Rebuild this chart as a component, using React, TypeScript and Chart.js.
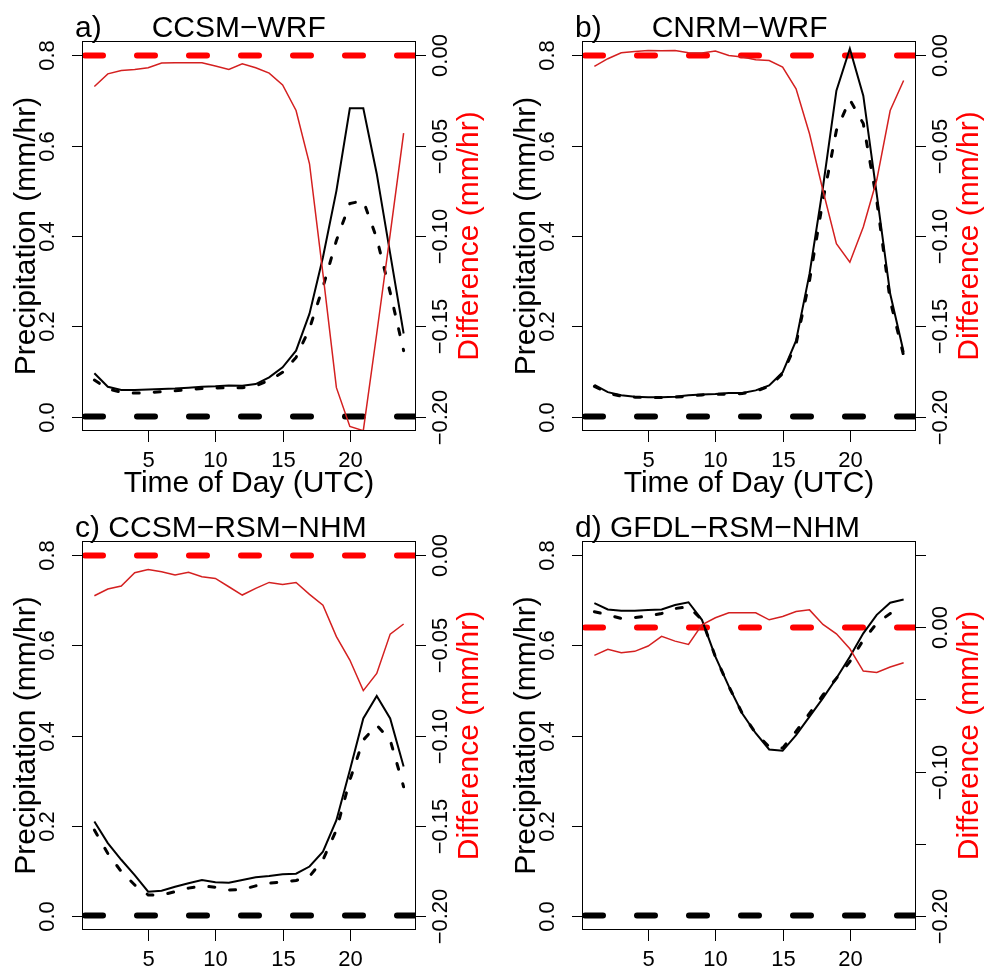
import React, { useEffect, useRef } from 'react';
import { Chart, registerables } from 'chart.js';

Chart.register(...registerables);

// ---------------- data ----------------
const HOURS = [1, 2, 3, 4, 5, 6, 7, 8, 9, 10, 11, 12, 13, 14, 15, 16, 17, 18, 19, 20, 21, 22, 23, 24];
const X_TICKS = [5, 10, 15, 20];
const X_TICK_LABELS = ['5', '10', '15', '20'];
const PRECIP_TICKS = [0, 0.2, 0.4, 0.6, 0.8];
const PRECIP_TICK_LABELS = ['0.0', '0.2', '0.4', '0.6', '0.8'];
const DIFF_TICKS_ABC = [0, -0.05, -0.1, -0.15, -0.2];
const DIFF_TICK_LABELS_ABC = ['0.00', '\u22120.05', '\u22120.10', '\u22120.15', '\u22120.20'];
const DIFF_TICKS_D = [0.05, 0, -0.05, -0.1, -0.15, -0.2];
const DIFF_TICK_LABELS_D = ['', '0.00', '', '\u22120.10', '', '\u22120.20'];

const PANEL_LETTERS = ['a)', 'b)', 'c)', 'd)'];
const PANEL_NAMES = ['CCSM\u2212WRF', 'CNRM\u2212WRF', 'CCSM\u2212RSM\u2212NHM', 'GFDL\u2212RSM\u2212NHM'];
const PANEL_GAPS = ['      ', '      ', ' ', ' '];
const PANEL_HAS_X_TITLE = [true, true, false, false];
const X_TITLE = 'Time of Day (UTC)';
const Y_TITLE = 'Precipitation (mm/hr)';
const Y2_TITLE = 'Difference (mm/hr)';

const A_SOLID = [0.096, 0.066, 0.059, 0.059, 0.060, 0.061, 0.062, 0.064, 0.066, 0.067, 0.069, 0.068, 0.072, 0.087, 0.109, 0.146, 0.228, 0.353, 0.500, 0.683, 0.683, 0.538, 0.361, 0.184];
const A_DASHED = [0.081, 0.061, 0.054, 0.052, 0.053, 0.055, 0.057, 0.060, 0.062, 0.063, 0.064, 0.064, 0.068, 0.080, 0.098, 0.131, 0.195, 0.287, 0.390, 0.472, 0.478, 0.395, 0.275, 0.146];
const A_DIFF = [-0.0172, -0.0102, -0.0083, -0.0078, -0.0068, -0.0042, -0.0041, -0.0041, -0.0041, -0.0059, -0.0078, -0.0046, -0.0068, -0.0098, -0.0163, -0.0305, -0.060, -0.121, -0.184, -0.2055, -0.2078, -0.154, -0.099, -0.043];

const B_SOLID = [0.070, 0.054, 0.047, 0.044, 0.043, 0.043, 0.044, 0.047, 0.049, 0.050, 0.052, 0.052, 0.058, 0.069, 0.098, 0.168, 0.316, 0.508, 0.722, 0.815, 0.711, 0.493, 0.272, 0.143];
const B_DASHED = [0.067, 0.052, 0.045, 0.043, 0.042, 0.042, 0.043, 0.045, 0.048, 0.049, 0.050, 0.051, 0.056, 0.067, 0.095, 0.161, 0.301, 0.479, 0.634, 0.702, 0.649, 0.479, 0.257, 0.135];
const B_DIFF = [-0.0061, -0.0018, 0.0015, 0.0022, 0.0028, 0.0026, 0.0028, 0.0015, 0.0013, 0.0024, 0.0, -0.0009, -0.0024, -0.0028, -0.0065, -0.0185, -0.0434, -0.0748, -0.1043, -0.1145, -0.095, -0.069, -0.0305, -0.0139];

const C_SOLID = [0.209, 0.161, 0.124, 0.090, 0.053, 0.055, 0.064, 0.072, 0.079, 0.074, 0.073, 0.079, 0.085, 0.088, 0.092, 0.093, 0.109, 0.142, 0.212, 0.323, 0.438, 0.488, 0.438, 0.331];
const C_DASHED = [0.190, 0.138, 0.098, 0.068, 0.046, 0.046, 0.053, 0.061, 0.066, 0.063, 0.057, 0.058, 0.066, 0.072, 0.075, 0.078, 0.087, 0.124, 0.190, 0.301, 0.390, 0.423, 0.390, 0.286];
const C_DIFF = [-0.0224, -0.0187, -0.0170, -0.0096, -0.0078, -0.0091, -0.0109, -0.0094, -0.0118, -0.0128, -0.0174, -0.0220, -0.0183, -0.0150, -0.0161, -0.0150, -0.0216, -0.0276, -0.0451, -0.0581, -0.0751, -0.0655, -0.0437, -0.0381];

const D_SOLID = [0.694, 0.680, 0.677, 0.677, 0.679, 0.680, 0.690, 0.696, 0.657, 0.575, 0.509, 0.449, 0.405, 0.369, 0.366, 0.401, 0.442, 0.483, 0.527, 0.575, 0.627, 0.668, 0.695, 0.702];
const D_DASHED = [0.675, 0.668, 0.660, 0.662, 0.665, 0.671, 0.682, 0.686, 0.657, 0.575, 0.509, 0.449, 0.405, 0.375, 0.372, 0.409, 0.449, 0.490, 0.527, 0.564, 0.612, 0.649, 0.671, 0.680];
const D_DIFF = [-0.0194, -0.0152, -0.0176, -0.0166, -0.0129, -0.0062, -0.0095, -0.0118, 0.0018, 0.0067, 0.0102, 0.0102, 0.0102, 0.0053, 0.0076, 0.0111, 0.0122, 0.0021, -0.0044, -0.0148, -0.0303, -0.0312, -0.0275, -0.0245];

// axis ranges (R style 4% extension)
const X_MIN = 1 - 0.04 * 23;
const X_MAX = 24 + 0.04 * 23;
const PRECIP_MIN = -0.032;
const PRECIP_MAX = 0.832;
const DIFF_RANGE_ABC = [-0.208, 0.008];
const DIFF_RANGE_D = [-0.21, 0.06];

// ---------------- layout / style ----------------
const W = 987;
const H = 973;
const FONT = '"Liberation Sans", Arial, Helvetica, sans-serif';
const BOXES = [
  { l: 82, t: 41, r: 416, b: 431 },
  { l: 582, t: 41, r: 916, b: 431 },
  { l: 82, t: 541, r: 416, b: 930 },
  { l: 582, t: 541, r: 916, b: 930 },
];

const PANELS = [
  { solid: A_SOLID, dashed: A_DASHED, diff: A_DIFF, range: DIFF_RANGE_ABC, ticks: DIFF_TICKS_ABC, labels: DIFF_TICK_LABELS_ABC },
  { solid: B_SOLID, dashed: B_DASHED, diff: B_DIFF, range: DIFF_RANGE_ABC, ticks: DIFF_TICKS_ABC, labels: DIFF_TICK_LABELS_ABC },
  { solid: C_SOLID, dashed: C_DASHED, diff: C_DIFF, range: DIFF_RANGE_ABC, ticks: DIFF_TICKS_ABC, labels: DIFF_TICK_LABELS_ABC },
  { solid: D_SOLID, dashed: D_DASHED, diff: D_DIFF, range: DIFF_RANGE_D, ticks: DIFF_TICKS_D, labels: DIFF_TICK_LABELS_D },
];

const decorPlugin = {
  id: 'rDecor',
  afterDraw(chart: any) {
    const cfg = chart.options.plugins.rDecor;
    if (!cfg) return;
    const ctx = chart.ctx as CanvasRenderingContext2D;
    const { left, right, top, bottom } = chart.chartArea;
    const xs = chart.scales.x;
    const ys = chart.scales.y;
    const y2 = chart.scales.y2;
    ctx.save();
    ctx.strokeStyle = '#000';
    ctx.fillStyle = '#000';
    ctx.lineWidth = 1;
    // box
    ctx.strokeRect(left + 0.5, top + 0.5, right - left - 1, bottom - top - 1);
    // x ticks
    ctx.font = `22px ${FONT}`;
    ctx.textAlign = 'center';
    ctx.textBaseline = 'alphabetic';
    X_TICKS.forEach((t, i) => {
      const px = Math.round(xs.getPixelForValue(t)) + 0.5;
      ctx.beginPath();
      ctx.moveTo(px, bottom);
      ctx.lineTo(px, bottom + 11);
      ctx.stroke();
      ctx.fillText(X_TICK_LABELS[i], px, bottom + 36);
    });
    // left ticks
    PRECIP_TICKS.forEach((v, i) => {
      const py = Math.round(ys.getPixelForValue(v)) + 0.5;
      ctx.beginPath();
      ctx.moveTo(left - 10, py);
      ctx.lineTo(left, py);
      ctx.stroke();
      ctx.save();
      ctx.translate(left - 28, py);
      ctx.rotate(-Math.PI / 2);
      ctx.fillText(PRECIP_TICK_LABELS[i], 0, 0);
      ctx.restore();
    });
    // right ticks
    cfg.ticks.forEach((v: number, i: number) => {
      const py = Math.round(y2.getPixelForValue(v)) + 0.5;
      ctx.beginPath();
      ctx.moveTo(right, py);
      ctx.lineTo(right + 10, py);
      ctx.stroke();
      const lab = cfg.labels[i];
      if (lab) {
        ctx.save();
        ctx.translate(right + 31, py);
        ctx.rotate(-Math.PI / 2);
        ctx.fillText(lab, 0, 0);
        ctx.restore();
      }
    });
    // titles
    ctx.font = `30px ${FONT}`;
    const cy = (top + bottom) / 2;
    ctx.save();
    ctx.translate(left - 47, cy);
    ctx.rotate(-Math.PI / 2);
    ctx.fillText(Y_TITLE, 0, 0);
    ctx.restore();
    ctx.save();
    ctx.fillStyle = '#FF0000';
    ctx.translate(right + 62, cy);
    ctx.rotate(-Math.PI / 2);
    ctx.fillText(Y2_TITLE, 0, 0);
    ctx.restore();
    if (cfg.xTitle) ctx.fillText(X_TITLE, (left + right) / 2, bottom + 61);
    ctx.textAlign = 'left';
    ctx.fillText(cfg.title, left - 7, top - 4);
    ctx.restore();
  },
};

function makeChart(canvas: HTMLCanvasElement, idx: number) {
  const p = PANELS[idx];
  const box = BOXES[idx];
  const pts = (vals: number[]) => HOURS.map((h, i) => ({ x: h, y: vals[i] }));
  const refLine = [{ x: X_MIN, y: 0 }, { x: X_MAX, y: 0 }];
  return new Chart(canvas, {
    type: 'line',
    data: {
      datasets: [
        { data: pts(p.diff), yAxisID: 'y2', borderColor: '#D42020', borderWidth: 1.5, pointRadius: 0, tension: 0, order: 1 },
        { data: pts(p.solid), yAxisID: 'y', borderColor: '#000000', borderWidth: 2, pointRadius: 0, tension: 0, order: 2 },
        { data: pts(p.dashed), yAxisID: 'y', borderColor: '#000000', borderWidth: 3, borderDash: [6, 15], borderCapStyle: 'round', pointRadius: 0, tension: 0, order: 3 },
        { data: refLine, yAxisID: 'y', borderColor: '#000000', borderWidth: 6, borderDash: [18, 34], borderDashOffset: -3, borderCapStyle: 'round', pointRadius: 0, clip: 0, order: 4 },
        { data: refLine, yAxisID: 'y2', borderColor: '#FF0000', borderWidth: 6, borderDash: [18, 34], borderDashOffset: -3, borderCapStyle: 'round', pointRadius: 0, clip: 0, order: 5 },
      ] as any,
    },
    options: {
      responsive: false,
      animation: false,
      devicePixelRatio: 1,
      events: [],
      layout: { padding: { left: box.l, top: box.t, right: W - box.r, bottom: H - box.b } },
      scales: {
        x: { type: 'linear', min: X_MIN, max: X_MAX, display: false },
        y: { type: 'linear', min: PRECIP_MIN, max: PRECIP_MAX, display: false },
        y2: { type: 'linear', position: 'right', min: p.range[0], max: p.range[1], display: false },
      },
      plugins: {
        legend: { display: false },
        tooltip: { enabled: false },
        rDecor: {
          title: PANEL_LETTERS[idx] + PANEL_GAPS[idx] + PANEL_NAMES[idx],
          ticks: p.ticks,
          labels: p.labels,
          xTitle: PANEL_HAS_X_TITLE[idx],
        },
      } as any,
    },
    plugins: [decorPlugin],
  } as any);
}

export default function App() {
  const r0 = useRef<HTMLCanvasElement>(null);
  const r1 = useRef<HTMLCanvasElement>(null);
  const r2 = useRef<HTMLCanvasElement>(null);
  const r3 = useRef<HTMLCanvasElement>(null);
  useEffect(() => {
    const refs = [r0, r1, r2, r3];
    const charts = refs.map((r, i) => makeChart(r.current as HTMLCanvasElement, i));
    return () => charts.forEach((c) => c.destroy());
  }, []);
  const cs: React.CSSProperties = { position: 'absolute', left: 0, top: 0 };
  return (
    <div style={{ position: 'absolute', left: 0, top: 0, width: W, height: H, background: '#fff', overflow: 'hidden' }}>
      <canvas ref={r0} width={W} height={H} style={cs} />
      <canvas ref={r1} width={W} height={H} style={cs} />
      <canvas ref={r2} width={W} height={H} style={cs} />
      <canvas ref={r3} width={W} height={H} style={cs} />
    </div>
  );
}
